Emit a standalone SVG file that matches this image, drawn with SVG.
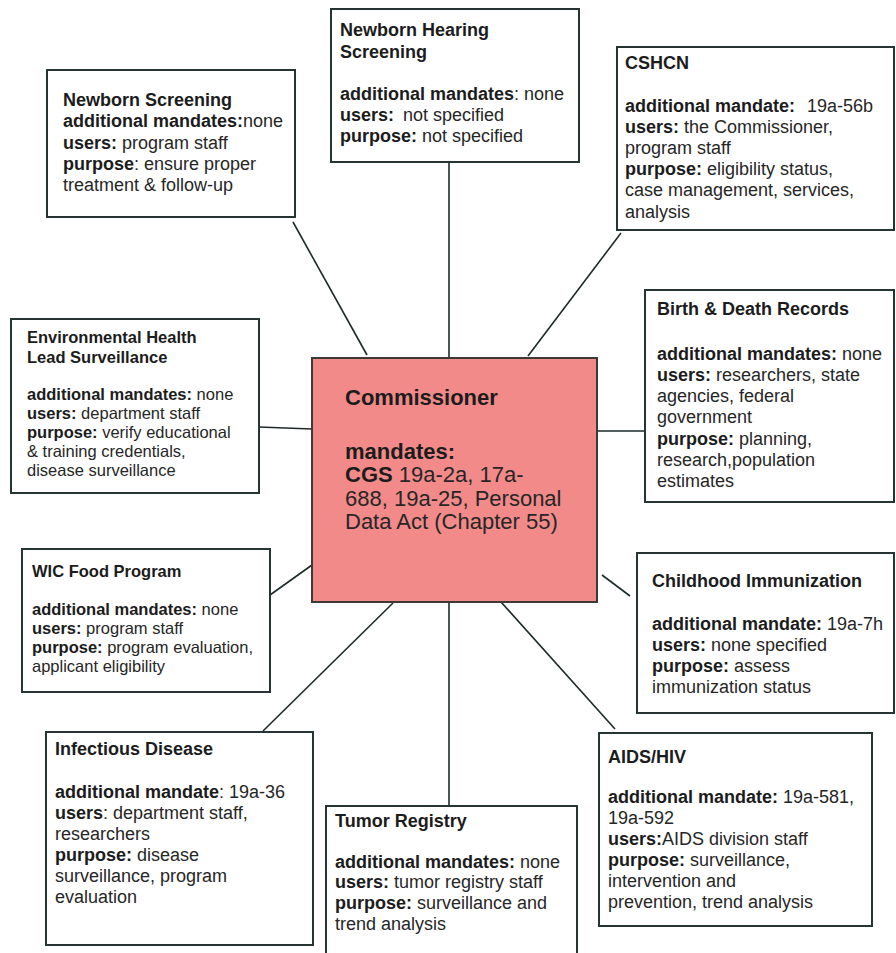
<svg xmlns="http://www.w3.org/2000/svg" width="896" height="953" viewBox="0 0 896 953">
<style>
.box{fill:#fff;stroke:#263434;stroke-width:2}
.hub{fill:#F38A8A;stroke:#3a3a3a;stroke-width:2}
.ln{stroke:#1e2a2a;stroke-width:1.6;fill:none}
text{font-family:"Liberation Sans",Arial,Helvetica,sans-serif;fill:#262626}
.m{font-size:18px}
.s{font-size:16.5px}
.c{font-size:22px}
.b{font-weight:bold;fill:#1c1c1c}
</style>
<rect width="896" height="953" fill="#fff"/>
<g id="connectors">
<line class="ln" x1="293" y1="222" x2="367" y2="355"/>
<line class="ln" x1="449" y1="162" x2="449" y2="358"/>
<line class="ln" x1="621" y1="233" x2="528" y2="356"/>
<line class="ln" x1="259" y1="427" x2="312" y2="429"/>
<line class="ln" x1="597" y1="431" x2="645" y2="431"/>
<line class="ln" x1="270" y1="595" x2="312" y2="565"/>
<line class="ln" x1="393" y1="603" x2="263" y2="731"/>
<line class="ln" x1="449" y1="602" x2="449" y2="806"/>
<line class="ln" x1="602" y1="575" x2="630" y2="596"/>
<line class="ln" x1="501" y1="602" x2="615" y2="729"/>
</g>
<g id="commissioner">
<rect class="hub" x="312" y="358" width="285" height="244"/>
<text class="c" x="345" y="405"><tspan class="b">Commissioner</tspan></text>
<text class="c" x="345" y="459"><tspan class="b">mandates:</tspan></text>
<text class="c" x="345" y="482"><tspan class="b">CGS</tspan> 19a-2a, 17a-</text>
<text class="c" x="345" y="506">688, 19a-25, Personal</text>
<text class="c" x="345" y="529">Data Act (Chapter 55)</text>
</g>
<g id="newborn-screening">
<rect class="box" x="47" y="70" width="248" height="147"/>
<text class="m" x="63" y="106"><tspan class="b">Newborn Screening</tspan></text>
<text class="m" x="63" y="127"><tspan class="b">additional mandates:</tspan>none</text>
<text class="m" x="63" y="149"><tspan class="b">users:</tspan> program staff</text>
<text class="m" x="63" y="170"><tspan class="b">purpose</tspan>: ensure proper</text>
<text class="m" x="63" y="191">treatment &amp; follow-up</text>
</g>
<g id="newborn-hearing">
<rect class="box" x="331" y="9" width="248" height="153"/>
<text class="m" x="340" y="36"><tspan class="b">Newborn Hearing</tspan></text>
<text class="m" x="340" y="58"><tspan class="b">Screening</tspan></text>
<text class="m" x="340" y="100"><tspan class="b">additional mandates</tspan>: none</text>
<text class="m" x="340" y="121"><tspan class="b">users:</tspan><tspan dx="9">not specified</tspan></text>
<text class="m" x="340" y="142"><tspan class="b">purpose:</tspan> not specified</text>
</g>
<g id="cshcn">
<rect class="box" x="617" y="47" width="277" height="183"/>
<text class="m" x="625" y="69"><tspan class="b">CSHCN</tspan></text>
<text class="m" x="625" y="112"><tspan class="b">additional mandate:</tspan><tspan dx="12">19a-56b</tspan></text>
<text class="m" x="625" y="133"><tspan class="b">users:</tspan> the Commissioner,</text>
<text class="m" x="625" y="154">program staff</text>
<text class="m" x="625" y="175"><tspan class="b">purpose:</tspan> eligibility status,</text>
<text class="m" x="625" y="196">case management, services,</text>
<text class="m" x="625" y="218">analysis</text>
</g>
<g id="environmental-health">
<rect class="box" x="11" y="319" width="248" height="174"/>
<text class="s" x="27" y="343"><tspan class="b">Environmental Health</tspan></text>
<text class="s" x="27" y="363"><tspan class="b">Lead Surveillance</tspan></text>
<text class="s" x="27" y="400"><tspan class="b">additional mandates:</tspan> none</text>
<text class="s" x="27" y="419"><tspan class="b">users:</tspan> department staff</text>
<text class="s" x="27" y="438"><tspan class="b">purpose:</tspan> verify educational</text>
<text class="s" x="27" y="457">&amp; training credentials,</text>
<text class="s" x="27" y="476">disease surveillance</text>
</g>
<g id="birth-death">
<rect class="box" x="645" y="290" width="249" height="212"/>
<text class="m" x="657" y="315"><tspan class="b">Birth &amp; Death Records</tspan></text>
<text class="m" x="657" y="360"><tspan class="b">additional mandates:</tspan> none</text>
<text class="m" x="657" y="381"><tspan class="b">users:</tspan> researchers, state</text>
<text class="m" x="657" y="402">agencies, federal</text>
<text class="m" x="657" y="423">government</text>
<text class="m" x="657" y="445"><tspan class="b">purpose:</tspan> planning,</text>
<text class="m" x="657" y="466">research,population</text>
<text class="m" x="657" y="487">estimates</text>
</g>
<g id="wic">
<rect class="box" x="22" y="549" width="248" height="143"/>
<text class="s" x="32" y="577"><tspan class="b">WIC Food Program</tspan></text>
<text class="s" x="32" y="615"><tspan class="b">additional mandates:</tspan> none</text>
<text class="s" x="32" y="634"><tspan class="b">users:</tspan> program staff</text>
<text class="s" x="32" y="653"><tspan class="b">purpose:</tspan> program evaluation,</text>
<text class="s" x="32" y="672">applicant eligibility</text>
</g>
<g id="childhood-immunization">
<rect class="box" x="637" y="553" width="257" height="160"/>
<text class="m" x="652" y="587"><tspan class="b">Childhood Immunization</tspan></text>
<text class="m" x="652" y="630"><tspan class="b">additional mandate:</tspan> 19a-7h</text>
<text class="m" x="652" y="651"><tspan class="b">users:</tspan> none specified</text>
<text class="m" x="652" y="672"><tspan class="b">purpose:</tspan> assess</text>
<text class="m" x="652" y="693">immunization status</text>
</g>
<g id="infectious-disease">
<rect class="box" x="46" y="732" width="267" height="213"/>
<text class="m" x="55" y="755"><tspan class="b">Infectious Disease</tspan></text>
<text class="m" x="55" y="798"><tspan class="b">additional mandate</tspan>: 19a-36</text>
<text class="m" x="55" y="819"><tspan class="b">users</tspan>: department staff,</text>
<text class="m" x="55" y="840">researchers</text>
<text class="m" x="55" y="861"><tspan class="b">purpose:</tspan> disease</text>
<text class="m" x="55" y="882">surveillance, program</text>
<text class="m" x="55" y="903">evaluation</text>
</g>
<g id="tumor-registry">
<rect class="box" x="326" y="806" width="251" height="160"/>
<text class="m" x="335" y="827"><tspan class="b">Tumor Registry</tspan></text>
<text class="m" x="335" y="868"><tspan class="b">additional mandates:</tspan> none</text>
<text class="m" x="335" y="888"><tspan class="b">users:</tspan> tumor registry staff</text>
<text class="m" x="335" y="909"><tspan class="b">purpose:</tspan> surveillance and</text>
<text class="m" x="335" y="930">trend analysis</text>
</g>
<g id="aids-hiv">
<rect class="box" x="599" y="733" width="273" height="193"/>
<text class="m" x="608" y="763"><tspan class="b">AIDS/HIV</tspan></text>
<text class="m" x="608" y="803"><tspan class="b">additional mandate:</tspan> 19a-581,</text>
<text class="m" x="608" y="824">19a-592</text>
<text class="m" x="608" y="845"><tspan class="b">users:</tspan>AIDS division staff</text>
<text class="m" x="608" y="866"><tspan class="b">purpose:</tspan> surveillance,</text>
<text class="m" x="608" y="887">intervention and</text>
<text class="m" x="608" y="908">prevention, trend analysis</text>
</g>
</svg>
